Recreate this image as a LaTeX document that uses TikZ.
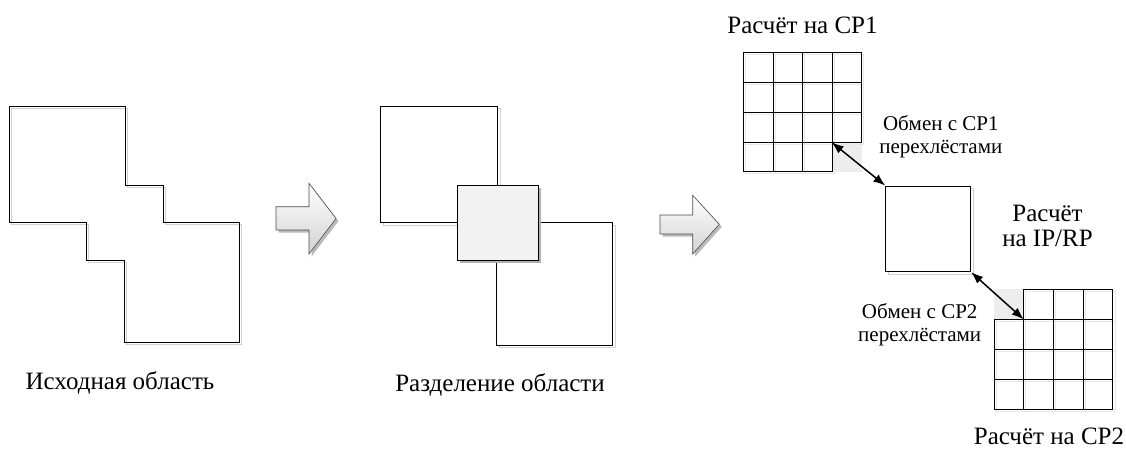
\documentclass[tikz,border=0pt]{standalone}
\usepackage{fontspec}
\setmainfont{Liberation Serif}
\usetikzlibrary{arrows.meta}
\begin{document}
\begin{tikzpicture}[x=1pt,y=-1pt,line width=0.8pt,
  shadowline/.style={draw=gray!35,line width=0.7pt},
  gridshadow/.style={draw=gray!18,line width=0.5pt},
  mainline/.style={draw=black,line width=0.8pt},
  bigarrow/.style={draw=black!70,line width=0.6pt,top color=white,bottom color=gray!35,shading angle=0},
  arrshadow/.style={fill=gray!55,draw=none},
  lbl/.style={font=\fontsize{25}{25}\selectfont,inner sep=0pt},
  small/.style={font=\fontsize{21}{22.6}\selectfont,inner sep=0pt,align=center},
  dbl/.style={{Latex[length=12pt,width=9pt]}-{Latex[length=12pt,width=9pt]},line width=1.5pt},
  cellfill/.style={fill=black!7,draw=none}]
\useasboundingbox (0,0) rectangle (1126,453);
% ---------- Shape 1: source domain
\draw[shadowline,shift={(2.5,2.5)}] (9,106) -- (125,106) -- (125,185) -- (163,185) -- (163,222) -- (239,222) -- (239,342) -- (124,342) -- (124,260) -- (86,260) -- (86,222) -- (9,222) -- cycle;
\draw[mainline] (9,106) -- (125,106) -- (125,185) -- (163,185) -- (163,222) -- (239,222) -- (239,342) -- (124,342) -- (124,260) -- (86,260) -- (86,222) -- (9,222) -- cycle;
\node[lbl] (l1) at (120,383) {Исходная область};
% ---------- Arrow 1
\fill[arrshadow,shift={(2.5,2.5)}] (276,206.7) -- (309,206.7) -- (309,183.3) -- (336,218.5) -- (309,254) -- (309,230) -- (276,230) -- cycle;
\path[bigarrow] (276,206.7) -- (309,206.7) -- (309,183.3) -- (336,218.5) -- (309,254) -- (309,230) -- (276,230) -- cycle;
% ---------- Shape 2: split domain
\draw[shadowline] (383.2,108.5) rectangle (500.2,225.2);
\draw[mainline,fill=white] (380.7,106) rectangle (497.7,222.7);
\draw[shadowline] (499.2,225.2) rectangle (615.2,347.8);
\draw[mainline,fill=white] (496.7,222.7) rectangle (612.7,345.3);
\fill[gray!60] (459.5,188.2) rectangle (541.2,263.2);
\draw[mainline,fill=black!5] (457,185.7) rectangle (538.7,260.7);
\node[lbl] (l2) at (500,385) {Разделение области};
% ---------- Arrow 2
\fill[arrshadow,shift={(2.5,2.5)}] (660,215) -- (692.7,215) -- (692.7,195.3) -- (719.3,224.3) -- (692.7,254) -- (692.7,234) -- (660,234) -- cycle;
\path[bigarrow] (660,215) -- (692.7,215) -- (692.7,195.3) -- (719.3,224.3) -- (692.7,254) -- (692.7,234) -- (660,234) -- cycle;
% ---------- Grid CP1
\fill[cellfill] (831.7,142.3) rectangle (861.7,171.7);
\foreach \i in {0,...,3}{\foreach \j in {0,...,3}{
  \ifnum\i\j=33\else
  \draw[gridshadow] ({743.3+29.6*\i+2},{52.7+29.75*\j+2}) rectangle ++(29.6,29.75);
  \fi}}
\foreach \i in {0,...,3}{\foreach \j in {0,...,3}{
  \ifnum\i\j=33\else
  \draw[mainline] ({743.3+29.6*\i},{52.7+29.75*\j}) rectangle ++(29.6,29.75);
  \fi}}
\coordinate (g1c) at (831.7,142.3);
\node[lbl] (t1) at (802.5,25) {Расчёт на CP1};
% ---------- Middle box
\draw[shadowline] (888.2,188.5) rectangle (973.2,274.2);
\node[draw=black,line width=0.8pt,fill=white,minimum width=85pt,minimum height=85.7pt,inner sep=0pt] (mid) at (928.2,228.85) {};
\node[lbl,align=center] (tm) at (1047.5,226) {Расчёт\\на IP/RP};
% ---------- Grid CP2
\fill[cellfill] (994,289.3) rectangle (1023.7,319.3);
\foreach \i in {0,...,3}{\foreach \j in {0,...,3}{
  \ifnum\i\j=0\else
  \draw[gridshadow] ({994+29.7*\i+2},{289.3+30*\j+2}) rectangle ++(29.7,30);
  \fi}}
\foreach \i in {0,...,3}{\foreach \j in {0,...,3}{
  \ifnum\i\j=0\else
  \draw[mainline] ({994+29.7*\i},{289.3+30*\j}) rectangle ++(29.7,30);
  \fi}}
\coordinate (g2c) at (1023.7,319.3);
\node[lbl] (t2) at (1049,436.7) {Расчёт на CP2};
% ---------- Exchanges
\draw[dbl] (g1c) -- (mid.north west);
\draw[dbl] (mid.south east) -- (g2c);
\node[small] (e1) at (940.8,137) {Обмен с CP1\\перехлёстами};
\node[small] (e2) at (919.7,325) {Обмен с CP2\\перехлёстами};
\end{tikzpicture}
\end{document}
